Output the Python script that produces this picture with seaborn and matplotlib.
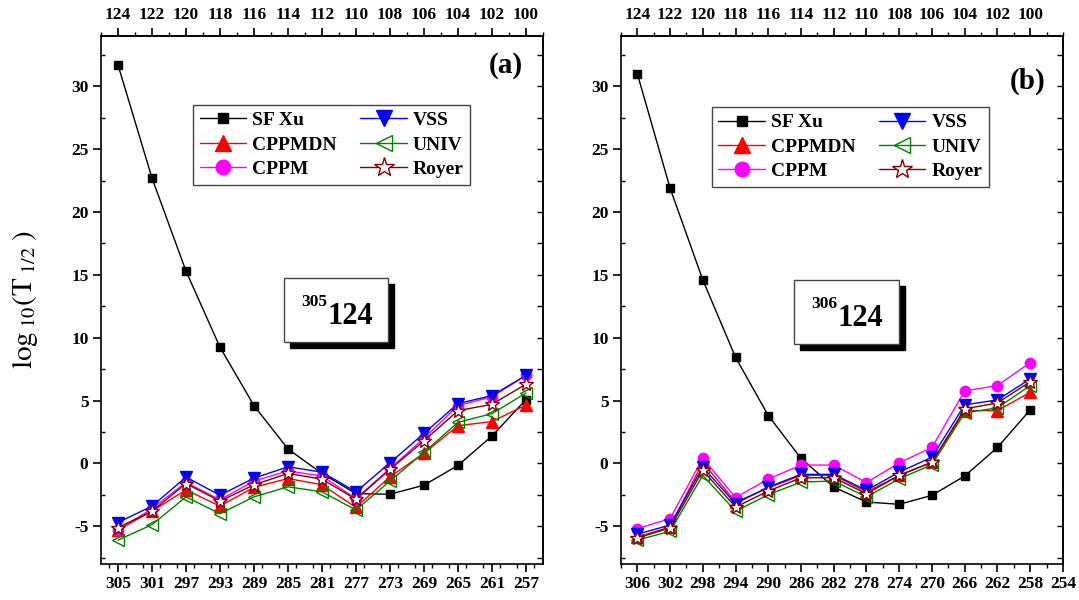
import matplotlib
matplotlib.use("Agg")
import matplotlib.pyplot as plt
import seaborn as sns
from matplotlib.patches import Rectangle
from matplotlib.ticker import MultipleLocator, FixedLocator

# mass numbers along the two alpha-decay chains
A_a = [305, 301, 297, 293, 289, 285, 281, 277, 273, 269, 265, 261, 257]
A_b = [306, 302, 298, 294, 290, 286, 282, 278, 274, 270, 266, 262, 258]
Z_ticks = [124, 122, 120, 118, 116, 114, 112, 110, 108, 106, 104, 102, 100]

# log10(T1/2) values, panel (a) 305-124 chain
sfxu_a = [31.7, 22.7, 15.3, 9.25, 4.6, 1.15, -0.8, -2.4, -2.45, -1.73, -0.16, 2.18, 5.08]
cppmdn_a = [-5.3, -3.8, -2.1, -3.4, -1.9, -1.2, -1.7, -3.5, -1.06, 0.8, 3.0, 3.33, 4.65]
cppm_a = [-5.3, -3.6, -1.5, -2.9, -1.4, -0.6, -1.0, -2.8, -0.4, 2.0, 4.6, 5.3, 7.0]
vss_a = [-4.7, -3.4, -1.09, -2.53, -1.17, -0.27, -0.69, -2.26, 0.05, 2.39, 4.76, 5.4, 7.0]
univ_a = [-6.1, -4.87, -2.66, -4.0, -2.66, -1.86, -2.26, -3.7, -1.4, 0.88, 3.27, 3.96, 5.6]
royer_a = [-5.1, -3.8, -1.6, -3.0, -1.7, -0.8, -1.25, -2.85, -0.48, 1.8, 4.2, 4.7, 6.3]

# panel (b) 306-124 chain
sfxu_b = [31.0, 21.9, 14.6, 8.44, 3.81, 0.4, -1.88, -3.07, -3.25, -2.54, -1.0, 1.27, 4.26]
cppmdn_b = [-5.85, -5.05, 0.1, -3.07, -1.96, -0.95, -0.95, -2.27, -0.95, 0.1, 4.2, 4.2, 5.66]
cppm_b = [-5.19, -4.39, 0.42, -2.72, -1.24, -0.13, -0.13, -1.53, 0.05, 1.27, 5.77, 6.19, 8.02]
vss_b = [-5.63, -4.9, -0.29, -3.2, -1.88, -0.87, -0.87, -2.14, -0.69, 0.5, 4.66, 5.05, 6.72]
univ_b = [-6.1, -5.4, -0.95, -3.8, -2.49, -1.48, -1.4, -2.67, -1.22, -0.1, 4.02, 4.42, 6.19]
royer_b = [-5.93, -5.13, -0.56, -3.47, -2.2, -1.14, -1.14, -2.41, -0.95, 0.1, 4.34, 4.81, 6.5]

names = ["SF Xu", "CPPMDN", "CPPM", "VSS", "UNIV", "Royer"]
# color, marker, size, face color
styles = {
    "SF Xu": ("black", "s", 5.5, "black"),
    "CPPMDN": ("red", "^", 8.5, "red"),
    "CPPM": ("magenta", "o", 7.5, "magenta"),
    "VSS": ("blue", "v", 8.5, "blue"),
    "UNIV": ("#008000", "<", 8.5, "none"),
    "Royer": ("#800000", "*", 10.5, "white"),
}

sns.set_theme(style="ticks", rc={
    "axes.edgecolor": "black", "xtick.color": "black", "ytick.color": "black",
    "text.color": "black", "axes.labelcolor": "black", "axes.linewidth": 1.2,
})
plt.rcParams["font.family"] = ["Liberation Serif", "DejaVu Serif"]
plt.rcParams["font.weight"] = "normal"
plt.rcParams["mathtext.fontset"] = "stix"
plt.rcParams["axes.unicode_minus"] = False

fig = plt.figure(figsize=(10.79, 6), dpi=100)
ax_a = fig.add_axes([0.0936, 0.06, 0.4096, 0.88])
ax_b = fig.add_axes([0.5755, 0.06, 0.4096, 0.88])
tick_axes = []


def draw_panel(ax, A, series, xlim, a0, tag, tag_pos, sup, box):
    for name, vals in zip(names, series):
        c, m, ms, fc = styles[name]
        sns.lineplot(x=A, y=vals, ax=ax, color=c, marker=m, markersize=ms,
                     markerfacecolor=fc, markeredgecolor=c, markeredgewidth=1,
                     linewidth=1, label=name)
    ax.set_xlim(*xlim)
    ax.set_ylim(-8, 34)
    ax.xaxis.set_major_locator(FixedLocator([a for a in range(A[0], xlim[1] - 1, -4)]))
    ax.xaxis.set_minor_locator(MultipleLocator(2))
    ax.yaxis.set_major_locator(MultipleLocator(5))
    ax.yaxis.set_minor_locator(MultipleLocator(2.5))
    ax.tick_params(which="major", direction="out", length=6, width=1.2,
                   labelsize=12.5, top=False, right=False, pad=3)
    ax.tick_params(axis="x", which="minor", direction="out", length=3, width=1, top=False)
    ax.tick_params(axis="y", which="minor", direction="in", length=3, width=1, right=False)
    ax.set_xlabel("")

    top = ax.secondary_xaxis("top", functions=(lambda a: (a - a0) / 2, lambda z: 2 * z + a0))
    top.xaxis.set_major_locator(FixedLocator(Z_ticks))
    top.xaxis.set_minor_locator(MultipleLocator(1))
    top.tick_params(which="major", direction="out", length=6, width=1.2, labelsize=12.5)
    top.tick_params(which="minor", direction="out", length=3, width=1)

    right = ax.secondary_yaxis("right")
    right.yaxis.set_major_locator(MultipleLocator(2.5))
    right.tick_params(direction="in", length=4, width=1, labelright=False)
    tick_axes.extend([ax, top])

    leg = ax.legend(loc="upper left", bbox_to_anchor=(box["leg_x"], box["leg_y"]),
                    ncol=2, markerscale=1.4, handlelength=2.4,
                    columnspacing=1.2, labelspacing=0.35, borderpad=0.35,
                    handletextpad=0.3, fancybox=False, framealpha=1,
                    prop={"weight": "bold", "size": 14})
    leg.get_frame().set_edgecolor("#444444")
    leg.get_frame().set_linewidth(1)

    ax.text(tag_pos[0], tag_pos[1], tag, transform=ax.transAxes, fontsize=21,
            fontweight="bold", ha="center", va="center")

    x0, y0, w, h = box["rect"]
    dx, dy = 6 / 442, 6 / 528
    ax.add_patch(Rectangle((x0 + dx, y0 - dy), w, h, transform=ax.transAxes,
                           facecolor="black", edgecolor="black", zorder=5))
    ax.add_patch(Rectangle((x0, y0), w, h, transform=ax.transAxes,
                           facecolor="white", edgecolor="#444444", lw=1, zorder=6))
    t = ax.text(x0 + 0.098, y0 + 0.034, "124", transform=ax.transAxes, fontsize=22,
                fontweight="bold", ha="left", va="baseline", zorder=7)
    ax.annotate(sup, xy=(0, 1), xycoords=t, xytext=(0, 6), textcoords="offset points",
                ha="right", va="top", fontsize=12.5, fontweight="bold", zorder=7)


draw_panel(ax_a, A_a, [sfxu_a, cppmdn_a, cppm_a, vss_a, univ_a, royer_a],
           (307, 255), 57, "(a)", (0.916, 0.945), "305",
           {"leg_x": 0.186, "leg_y": 0.888, "rect": (0.414, 0.4205, 0.235, 0.121)})
draw_panel(ax_b, A_b, [sfxu_b, cppmdn_b, cppm_b, vss_b, univ_b, royer_b],
           (308, 254), 58, "(b)", (0.921, 0.915), "306",
           {"leg_x": 0.183, "leg_y": 0.884, "rect": (0.391, 0.4167, 0.238, 0.121)})

ax_a.set_ylabel(r"$\mathrm{log}_{\;10}(\mathrm{T}_{\;1/2}\;)$", fontsize=21)
ax_a.yaxis.set_label_coords(-0.138, 0.5)

# bold tick labels on every axis
fig.canvas.draw()
for a in tick_axes:
    for lab in a.get_xticklabels() + a.get_yticklabels():
        lab.set_fontweight("bold")

fig.savefig("out.png", dpi=100)
